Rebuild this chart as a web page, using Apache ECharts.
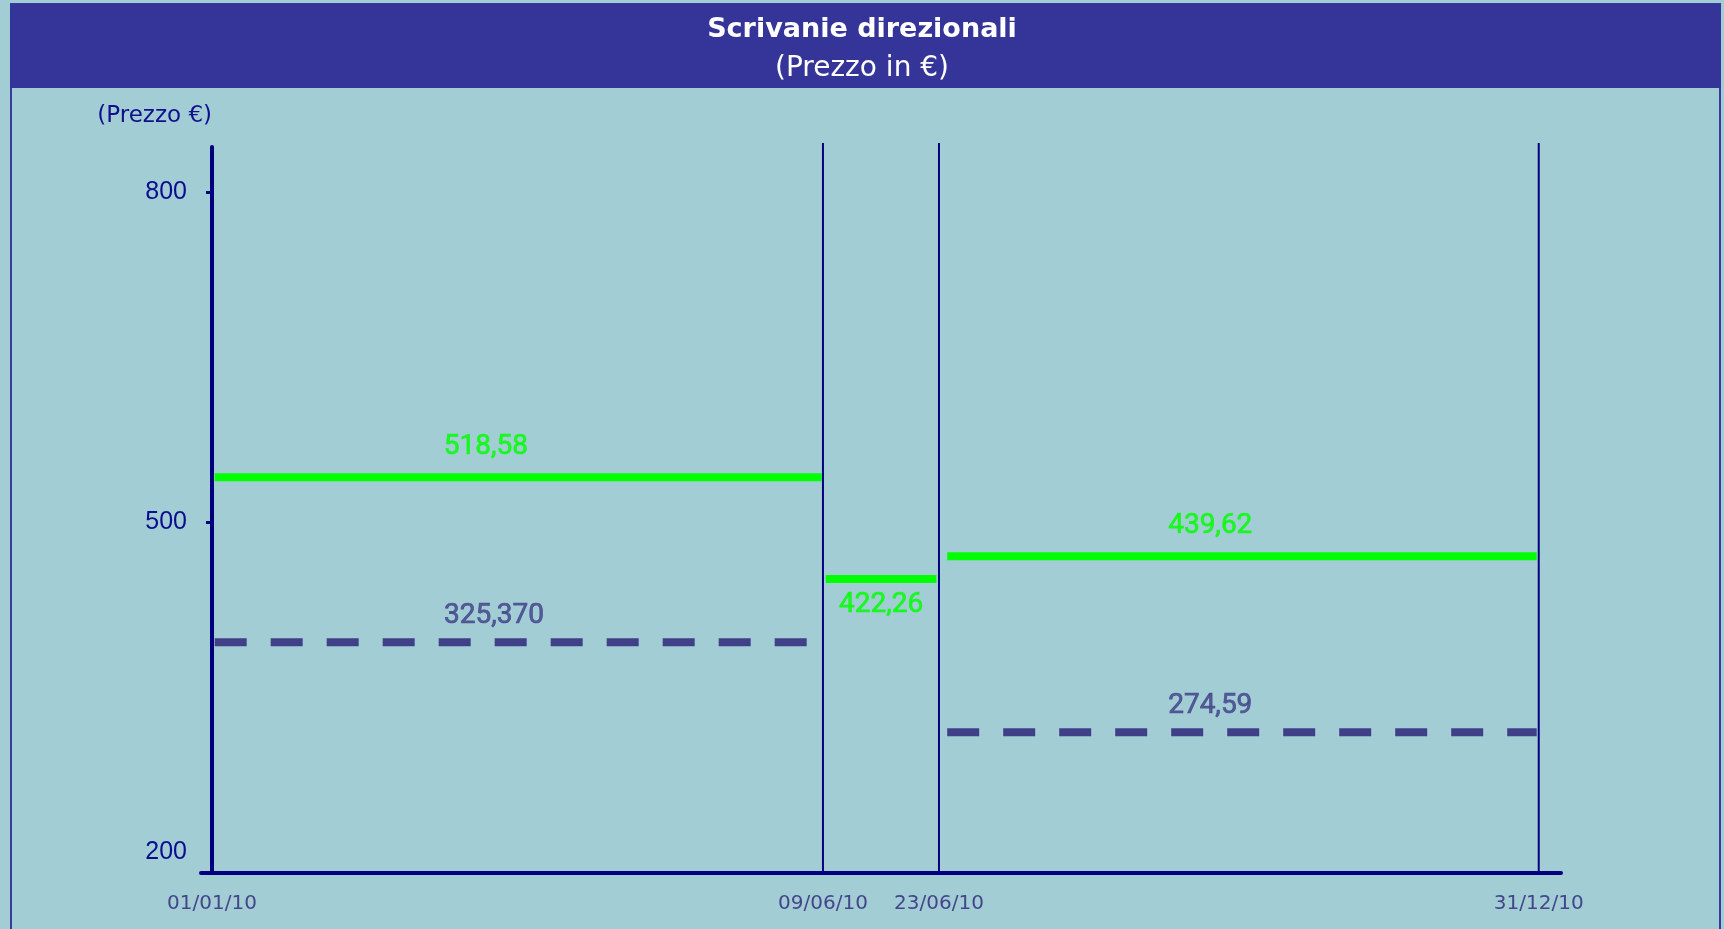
<!DOCTYPE html>
<html>
<head>
<meta charset="utf-8">
<title>Scrivanie direzionali</title>
<script src="https://cdn.jsdelivr.net/npm/echarts@6/dist/echarts.min.js"></script>
<style>
html, body { margin: 0; padding: 0; background: #a2cdd4; }
#chart { width: 1724px; height: 929px; }
</style>
</head>
<body>
<div id="chart"></div>
<script>
// asse dei tempi: le date non sono in scala, posizioni (0-100)
var dateLabels = ['01/01/10', '09/06/10', '23/06/10', '31/12/10'];
var datePos = [0, 45.29, 53.89, 98.35];

// tacche asse prezzi
var yTickValues = [200, 500, 800];

var greenText = ['518,58', '422,26', '439,62'];
var greenLevel = [540.9, 448.5, 469.1];
var greenFrom = [0.2, 45.5, 54.5];
var greenTo = [45.2, 53.7, 98.2];
var greenLabelX = [20.3, 49.6, 74.0];

// prezzo minimo (linea tratteggiata)
var blueText = ['325,370', '274,59'];
var blueLevel = [390.9, 309.1];
var blueFrom = [0.2, 54.5];
var blueTo = [45.2, 98.2];
var blueLabelX = [20.9, 74.0];

var yMin = 181.2, yMax = 841.2, vTop = 844.8;
var navy = '#00007f';
var green = '#00ff00';
var slate = '#404088';

var myChart = echarts.init(document.getElementById('chart'));

function segment(from, to, level, color, dashed) {
    return {
        type: 'line',
        data: [[from, level], [to, level]],
        symbol: 'none',
        silent: true,
        clip: false,
        lineStyle: { color: color, width: 8, type: dashed ? [32, 24] : 'solid', cap: 'butt' },
        z: 3
    };
}

var series = [];
// linee verticali delle date
for (var i = 1; i < datePos.length; i++) {
    series.push({
        type: 'line',
        data: [[datePos[i], yMin], [datePos[i], vTop]],
        symbol: 'none',
        silent: true,
        clip: false,
        lineStyle: { color: navy, width: 2 },
        z: 2
    });
}
for (var g = 0; g < greenLevel.length; g++) {
    series.push(segment(greenFrom[g], greenTo[g], greenLevel[g], green, false));
}
for (var b = 0; b < blueLevel.length; b++) {
    series.push(segment(blueFrom[b], blueTo[b], blueLevel[b], slate, true));
}

// etichette dei valori
var labelData = [];
var greenOffset = [-30, 26, -30];
for (var k = 0; k < greenText.length; k++) {
    labelData.push({
        value: [greenLabelX[k], greenLevel[k]],
        name: greenText[k],
        label: { color: green, textBorderColor: green, offset: [0, greenOffset[k]] }
    });
}
for (var m = 0; m < blueText.length; m++) {
    labelData.push({
        value: [blueLabelX[m], blueLevel[m]],
        name: blueText[m],
        label: { color: slate, textBorderColor: slate, offset: [0, -26] }
    });
}
series.push({
    type: 'scatter',
    data: labelData,
    symbolSize: 0,
    silent: true,
    z: 5,
    label: {
        show: true,
        position: 'inside',
        formatter: function (p) { return p.name; },
        fontFamily: 'Roboto',
        fontSize: 28,
        textBorderWidth: 0.7
    }
});

var option = {
    backgroundColor: '#a2cdd4',
    animation: false,
    textStyle: { fontFamily: 'DejaVu Sans' },
    graphic: [
        {
            type: 'rect',
            shape: { x: 11, y: 4, width: 1709, height: 940 },
            style: { fill: null, stroke: '#3a3aa0', lineWidth: 2 },
            z: -10
        },
        {
            type: 'rect',
            shape: { x: 10, y: 4, width: 1711, height: 84 },
            style: { fill: '#353599' },
            z: -9
        }
    ],
    title: {
        text: 'Scrivanie direzionali',
        subtext: '(Prezzo in €)',
        left: 'center',
        top: 12,
        padding: 0,
        itemGap: 3,
        textStyle: { color: '#ffffff', fontSize: 27, fontWeight: 'bold', lineHeight: 36, fontFamily: 'DejaVu Sans' },
        subtextStyle: { color: '#ffffff', fontSize: 28, lineHeight: 36, fontFamily: 'DejaVu Sans' }
    },
    grid: { left: 201, right: 163, top: 147, bottom: 56 },
    xAxis: {
        type: 'value',
        min: -0.815,
        max: 100,
        axisLine: { show: true, lineStyle: { color: navy, width: 4 } },
        axisTick: { show: false },
        splitLine: { show: false },
        axisLabel: {
            customValues: datePos,
            formatter: function (v) {
                var idx = datePos.indexOf(v);
                return idx >= 0 ? dateLabels[idx] : '';
            },
            color: '#45458c',
            fontSize: 20,
            margin: 21,
            fontFamily: 'DejaVu Sans'
        }
    },
    yAxis: {
        type: 'value',
        min: yMin,
        max: yMax,
        name: '(Prezzo €)',
        nameLocation: 'end',
        nameGap: 19,
        nameTextStyle: { color: '#10108c', fontSize: 23, align: 'right', fontFamily: 'DejaVu Sans' },
        axisLine: { show: true, onZero: true, lineStyle: { color: navy, width: 4 } },
        axisTick: { show: true, customValues: [500, 800], length: 6, lineStyle: { color: navy, width: 3 } },
        splitLine: { show: false },
        axisLabel: {
            customValues: yTickValues,
            color: '#0c0c8f',
            fontSize: 25,
            margin: 14,
            fontFamily: 'Liberation Sans'
        }
    },
    series: series
};

myChart.setOption(option);
</script>
</body>
</html>
